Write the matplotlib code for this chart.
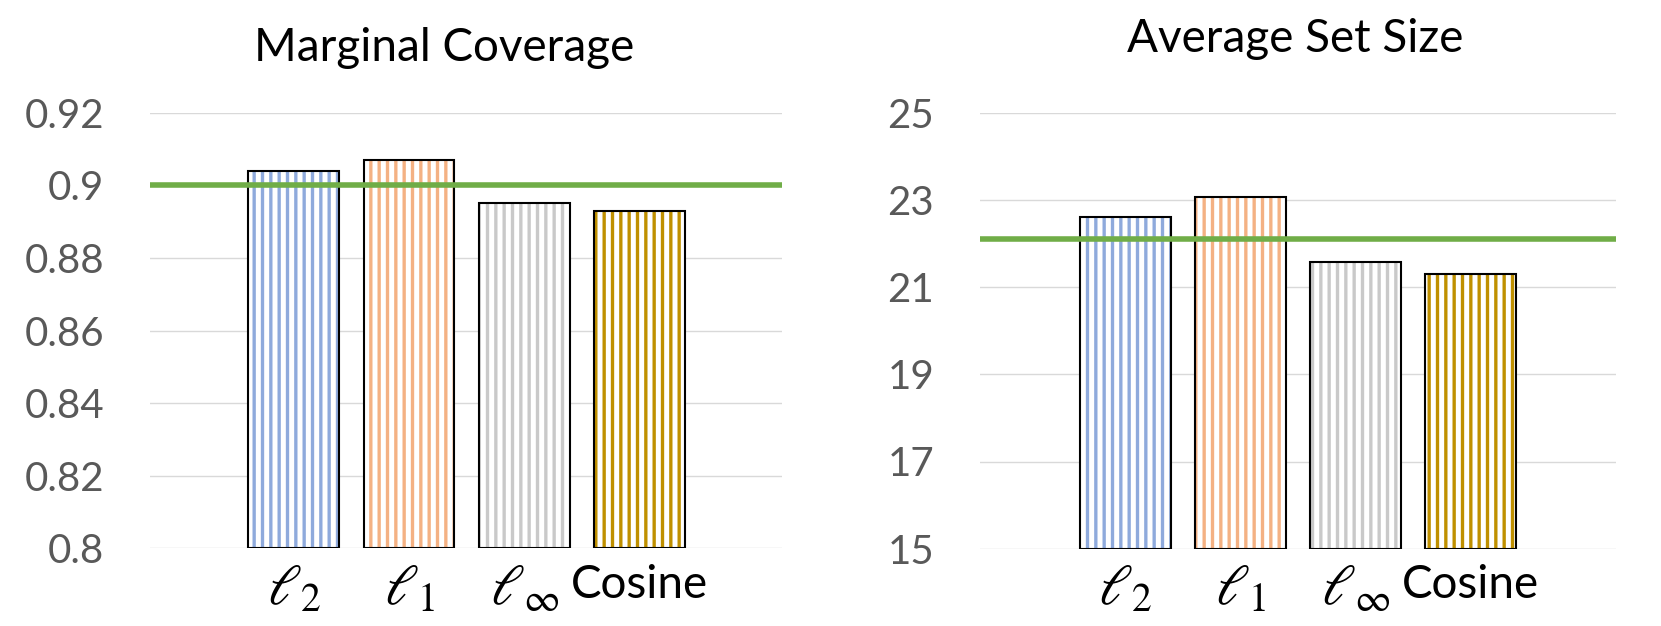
import matplotlib.pyplot as plt
import numpy as np

plt.rcParams['font.family'] = ['Lato', 'DejaVu Sans']
plt.rcParams['mathtext.fontset'] = 'stix'
plt.rcParams['hatch.linewidth'] = 2.4

labels = [r'$\ell_2$', r'$\ell_1$', r'$\ell_\infty$', 'Cosine']
colors = ['#8FAADC', '#F4B183', '#C9C9C9', '#BF9000']

coverage = [0.904, 0.907, 0.895, 0.893]
coverage_target = 0.9
coverage_ticks = [0.8, 0.82, 0.84, 0.86, 0.88, 0.9, 0.92]
coverage_ticklabels = ['0.8', '0.82', '0.84', '0.86', '0.88', '0.9', '0.92']

set_size = [22.61, 23.06, 21.57, 21.3]
set_size_target = 22.1
set_size_ticks = [15, 17, 19, 21, 23, 25]

W, H = 1661, 626
fig = plt.figure(figsize=(W / 100, H / 100), dpi=100)

ax1 = fig.add_axes([150 / W, (H - 548.3) / H, 632 / W, 435.6 / H])
ax2 = fig.add_axes([980 / W, (H - 548.7) / H, 636 / W, 436 / H])


def draw(ax, vals, target, ticks, ticklabels, ylim, xlim):
    x = np.arange(len(vals))
    base = ylim[0]
    h = [v - base for v in vals]
    for i in range(len(vals)):
        # striped fill (hatch takes the edge colour, so draw outline separately)
        ax.bar(x[i], h[i], bottom=base, width=0.79, facecolor='white',
               edgecolor=colors[i], hatch='||', linewidth=0, zorder=2)
    ax.bar(x, h, bottom=base, width=0.79, fill=False, edgecolor='black',
           linewidth=1.5, zorder=3)
    ax.axhline(target, color='#70AD47', linewidth=4, zorder=4)
    ax.set_ylim(*ylim)
    ax.set_xlim(*xlim)
    ax.set_yticks(ticks)
    ax.set_yticklabels(ticklabels)
    ax.set_xticks(x)
    ax.set_xticklabels(labels)
    ax.grid(axis='y', color='#D9D9D9', linewidth=1.0, zorder=0)
    ax.set_axisbelow(True)
    for s in ax.spines.values():
        s.set_visible(False)
    ax.tick_params(axis='y', length=0, pad=33, labelsize=29, labelcolor='#595959')
    ax.tick_params(axis='x', length=0, pad=11, labelsize=33, labelcolor='black')
    for t in ax.get_xticklabels():
        if t.get_text().startswith('$'):
            t.set_fontsize(41)


draw(ax1, coverage, coverage_target, coverage_ticks, coverage_ticklabels,
     (0.8, 0.92), (-1.25, 4.24))
draw(ax2, set_size, set_size_target, set_size_ticks,
     [str(t) for t in set_size_ticks], (15, 25), (-1.26, 4.26))

fig.text(444 / W, 1 - 61 / H, 'Marginal Coverage', ha='center', va='baseline',
         fontsize=33, color='black')
fig.text(1295 / W, 1 - 52 / H, 'Average Set Size', ha='center', va='baseline',
         fontsize=33, color='black')

fig.savefig('out.png', dpi=100)
